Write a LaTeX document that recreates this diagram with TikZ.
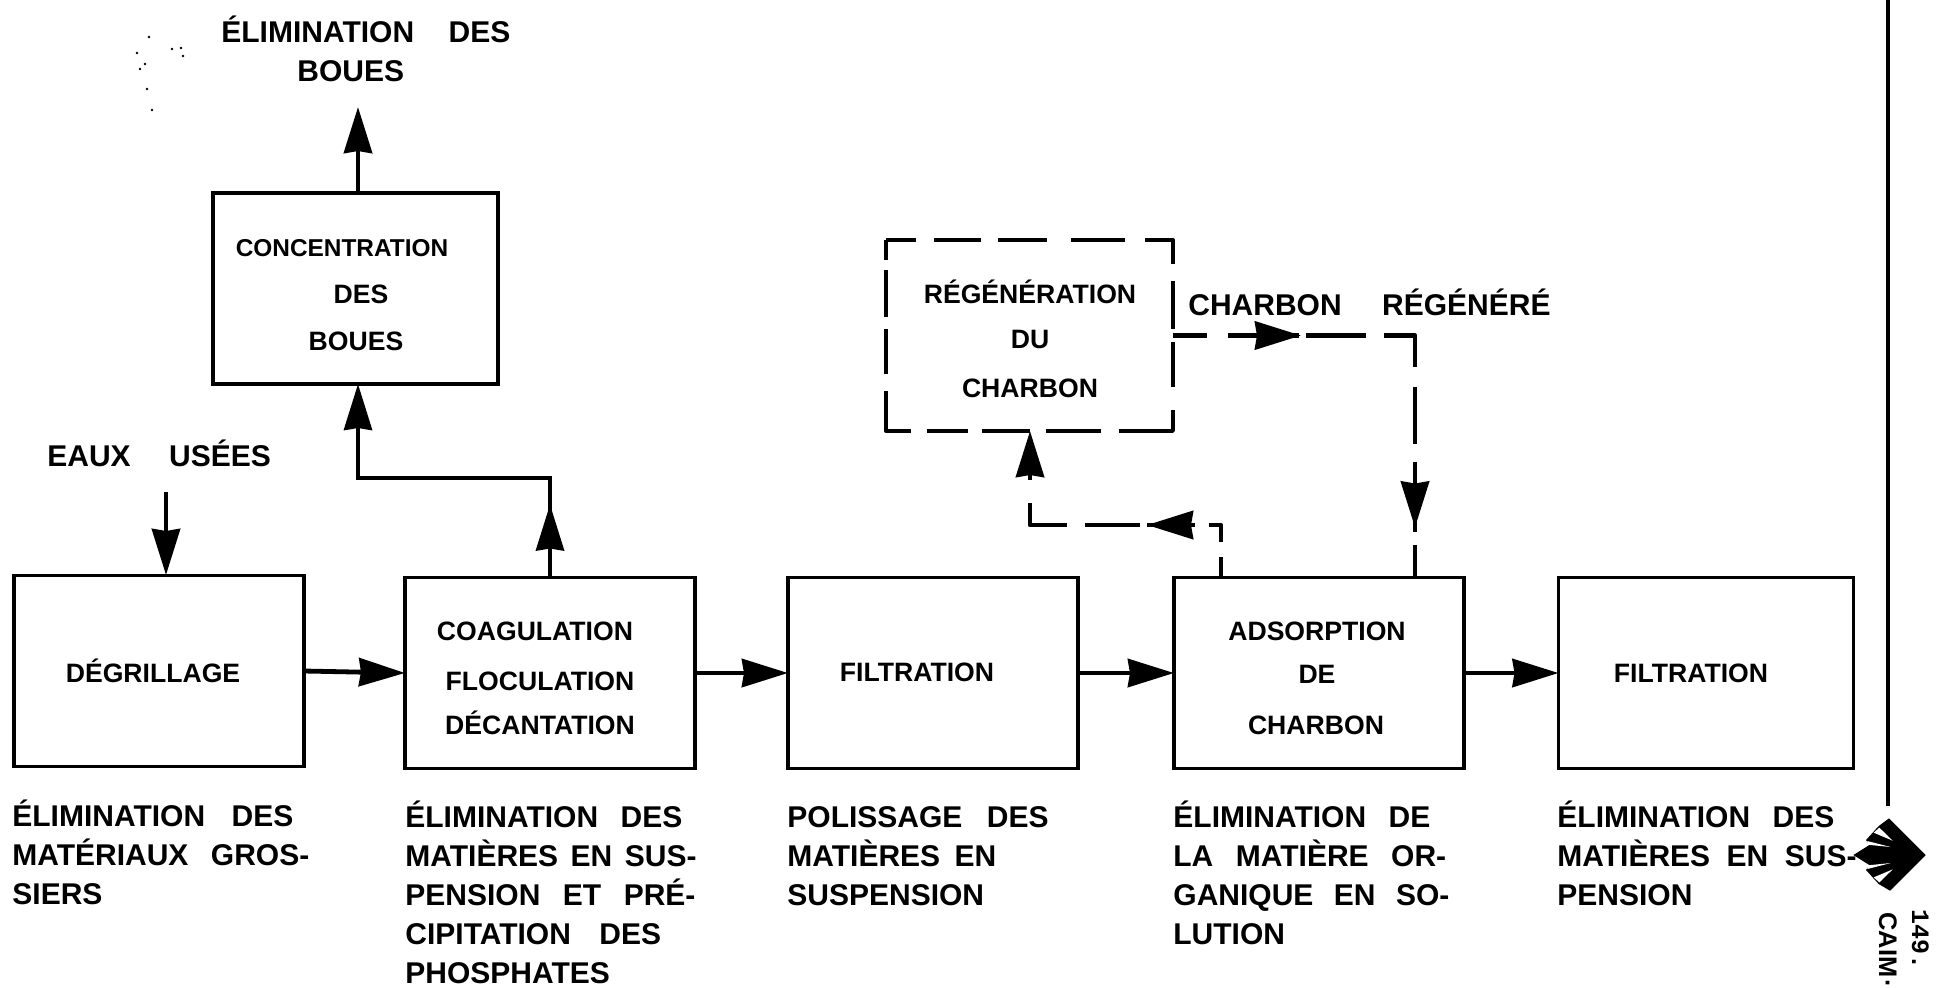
\documentclass[tikz,border=0pt]{standalone}
\usepackage{fontspec}
\setmainfont[WordSpace=2.7]{Liberation Sans}
\newfontfamily\monof{Liberation Mono}
\usetikzlibrary{arrows.meta,decorations.markings}
\tikzset{
  x=0.5pt,y=-0.5pt,
  bigtip/.tip={Stealth[length=23pt,width=14pt,inset=1pt]},
  boxnode/.style={draw=black,line width=1.8pt,outer sep=0pt,minimum width=#1,minimum height=95.5pt,inner sep=0pt},
  boxnode/.default=145pt,
  flow/.style={draw=black,line width=2.4pt,-{bigtip}},
  dashflow/.style={draw=black,line width=2.4pt,line join=round},
  regline/.style={draw=black,line width=1.7pt,line join=round},
  boxlabel/.style={anchor=base,inner sep=0pt,font=\fontsize{13.3}{15}\selectfont\bfseries},
  biglabel/.style={anchor=base west,inner sep=0pt,font=\fontsize{15}{19}\selectfont\bfseries},
  note/.style={anchor=north west,inner sep=0pt,align=left,font=\fontsize{15}{19.5}\selectfont\bfseries},
  speck/.style={fill=black,draw=none}
}
\newcommand{\topline}{\rule{0pt}{14pt}}
\begin{document}
\begin{tikzpicture}
\useasboundingbox (0,0) rectangle (1938,987);
% boxes
\node[boxnode] (deg) at (159,671) {};
\node[boxnode] (coag) at (550,673) {};
\node[boxnode] (filt) at (933,673) {};
\node[boxnode] (ads) at (1319,673) {};
\node[boxnode=147.5pt] (filtb) at (1706,673) {};
\node[boxnode=142.5pt] (conc) at (355.5,288.5) {};
\node[outer sep=0pt,minimum width=143.5pt,minimum height=95.5pt,inner sep=0pt] (reg) at (1029.5,335.5) {};
\draw[regline,dash pattern=on 15pt off 9pt on 23.5pt off 8.5pt on 24.5pt off 12pt on 27pt off 10pt on 26pt off 8.5pt on 24pt off 6.5pt on 22.5pt off 11.5pt on 37.5pt off 9pt on 27.5pt off 8pt on 24pt off 7pt on 20.5pt off 8pt on 32.5pt off 8.5pt on 22.5pt off 6pt on 23.5pt off 5pt on 11pt off 0pt]
  (reg.north west) -- (reg.north east) -- (reg.south east) -- (reg.south west) -- cycle;
% box texts
\node[boxlabel] (t1) at (153,682) {DÉGRILLAGE};
\node[boxlabel] (t2) at (535,640) {COAGULATION};
\node[boxlabel] (t3) at (540,690) {FLOCULATION};
\node[boxlabel] (t4) at (540,734) {DÉCANTATION};
\node[boxlabel] (t5) at (917,681) {FILTRATION};
\node[boxlabel] (t6) at (1317,640) {ADSORPTION};
\node[boxlabel] (t7) at (1317,683) {DE};
\node[boxlabel] (t8) at (1316,734) {CHARBON};
\node[boxlabel] (t9) at (1691,682) {FILTRATION};
\node[boxlabel,font=\fontsize{12.2}{15}\selectfont\bfseries] (t10) at (342,256) {CONCENTRATION};
\node[boxlabel] (t11) at (361,303) {DES};
\node[boxlabel] (t12) at (356,350) {BOUES};
\node[boxlabel] (t13) at (1030,303) {RÉGÉNÉRATION};
\node[boxlabel] (t14) at (1030,348) {DU};
\node[boxlabel] (t15) at (1030,397) {CHARBON};
% big labels
\node[biglabel] (l1) at (221,42) {ÉLIMINATION\hspace{6pt} DES};
\node[biglabel] (l2) at (297,81) {BOUES};
\node[biglabel] (l3) at (47,466) {EAUX\hspace{8pt} USÉES};
\node[biglabel] (l4) at (1188,315) {CHARBON\hspace{9pt} RÉGÉNÉRÉ};
% notes
\node[note] (n1) at (12,798) {\topline ÉLIMINATION\hspace{2pt} DES\\MATÉRIAUX GROS-\\SIERS};
\node[note] (n2) at (405,799) {\topline ÉLIMINATION DES\\MATIÈRES\hspace{-5pt} EN\hspace{-5pt} SUS-\\PENSION ET PRÉ-\\CIPITATION\hspace{3pt} DES\\PHOSPHATES};
\node[note] (n3) at (787,799) {\topline POLISSAGE\hspace{1pt} DES\\MATIÈRES\hspace{-4pt} EN\\SUSPENSION};
\node[note] (n4) at (1173,799) {\topline ÉLIMINATION DE\\LA MATIÈRE OR-\\GANIQUE\hspace{-1pt} EN\hspace{-1pt} SO-\\LUTION};
\node[note] (n5) at (1557,799) {\topline ÉLIMINATION DES\\MATIÈRES\hspace{-3pt} EN\hspace{-3pt} SUS-\\PENSION};
% free ends
\coordinate (boueout) at (358,107);
\coordinate (concin) at (358,384);
\coordinate (usees) at (166,492);
\coordinate (degin) at (166,575);
\coordinate (cadout) at (1221,577);
\coordinate (cadin) at (1415,577);
\coordinate (regin) at (1030,431);
% solid connectors
\draw[flow] (concin |- conc.north) -- (boueout);
\draw[flow] (usees) -- (degin);
\draw[flow] (deg.east) -- (coag.west);
\draw[flow] (coag.east) -- (filt.west);
\draw[flow] (filt.east) -- (ads.west);
\draw[flow] (ads.east) -- (filtb.west);
\draw[flow,line width=2pt,postaction={decorate,decoration={markings,mark=at position 36.5pt with {\arrow{bigtip}}}}]
  (coag.north) |- (concin |- 0,478) -- (concin);
% dashed connectors
\draw[dashflow,dash pattern=on 17pt off 10.5pt on 35.5pt off 3.5pt on 30pt off 9pt on 31pt off 10pt on 28.5pt off 9pt on 35pt off 6.5pt on 16.5pt,
  postaction={decorate,decoration={markings,
    mark=at position 64pt with {\arrow{bigtip}},
    mark=at position 217pt with {\arrow{bigtip}}}}]
  (reg.east) -| (cadin);
\draw[dashflow,dash pattern=on 10pt off 7.5pt on 14.5pt off 7pt on 24pt off 3.5pt on 27.5pt off 9pt on 29.5pt off 11.5pt on 24.5pt,
  postaction={decorate,decoration={markings,mark=at position 63pt with {\arrow{bigtip}}}},-{bigtip}]
  (cadout) |- (regin |- 0,525) -- (regin);
% right-hand rule and emblem
\coordinate (rulea) at (1888,0);
\coordinate (ruleb) at (1888,806);
\draw[line width=1.8pt] (rulea) -- (ruleb);
\begin{scope}[shift={(1780,780)},x=0.1667pt,y=-0.1667pt]
  \fill (327,115) -- (437,225) -- (330,332) -- (296,312) -- (258,270) -- (268,255) -- (220,225) -- (268,195) -- (258,180) -- (296,138) -- cycle;
  \fill[white] (338,182) -- (298,143) -- (281,158) -- cycle;
  \fill[white] (332,201) -- (262,183) -- (262,194) -- cycle;
  \fill[white] (332,249) -- (262,256) -- (262,267) -- cycle;
  \fill[white] (338,268) -- (281,292) -- (298,307) -- cycle;
\end{scope}
\node[rotate=-90,anchor=base west,inner sep=0pt,font=\monof\bfseries\fontsize{12.5}{14}\selectfont] (code) at (1912,909) {149.};
\node[rotate=-90,anchor=base west,inner sep=0pt,font=\bfseries\fontsize{12.7}{14}\selectfont] (caim) at (1879,912) {CAIM\kern1pt·};
% specks
\foreach \sx/\sy in {149/37,172/49,181/48,183/56,137/53,145/64,140/69,147/89,152/110}
  \fill[speck] (\sx,\sy) circle (0.7pt);
\end{tikzpicture}
\end{document}
